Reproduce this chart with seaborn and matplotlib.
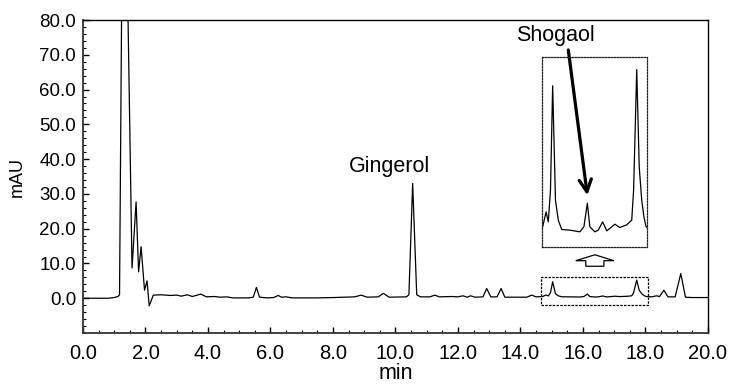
import matplotlib
matplotlib.use('Agg')
import matplotlib.pyplot as plt
import matplotlib.patches as mpatches
from matplotlib.ticker import MultipleLocator, FormatStrFormatter
import seaborn as sns
import pandas as pd

# Chromatogram trace (retention time in min, absorbance in mAU)
time_min = [0.0, 0.8, 1.0, 1.12, 1.17, 1.30, 1.57, 1.70, 1.78, 1.86, 1.97, 2.05, 2.12,
            2.25, 2.5, 2.8, 3.0, 3.15, 3.34, 3.5, 3.77, 3.95, 4.2, 4.4, 4.6, 4.8,
            5.3, 5.45, 5.55, 5.65, 5.9, 6.1, 6.25, 6.35, 6.5, 6.7, 7.5, 8.0, 8.7,
            8.9, 9.1, 9.45, 9.61, 9.8, 10.35, 10.43, 10.55, 10.68, 10.8, 11.1, 11.26,
            11.4, 11.8, 12.0, 12.16, 12.3, 12.4, 12.55, 12.8, 12.92, 13.05, 13.25,
            13.38, 13.5, 14.2, 14.36, 14.5, 14.62,
            14.71, 14.82, 14.89, 14.96, 15.03, 15.12, 15.21, 15.32, 15.58, 15.90,
            16.03, 16.14, 16.22, 16.38, 16.49, 16.63, 16.76, 16.86, 17.02, 17.18,
            17.40, 17.56, 17.62, 17.72, 17.80, 17.88, 17.95, 18.02,
            18.2, 18.35, 18.45, 18.59, 18.72, 18.95, 19.13, 19.28, 19.5, 20.0]
mau = [0.0, 0.0, 0.2, 0.5, 1.0, 160.0, 8.7, 27.7, 7.6, 14.8, 2.3, 5.0, -2.2,
       0.9, 1.0, 0.8, 0.9, 0.6, 1.0, 0.5, 1.2, 0.4, 0.5, 0.3, 0.4, 0.1,
       0.1, 0.3, 3.1, 0.3, 0.1, 0.2, 0.8, 0.3, 0.4, 0.1, 0.1, 0.2, 0.4,
       0.9, 0.3, 0.4, 1.4, 0.3, 0.4, 1.0, 33.0, 1.0, 0.4, 0.4, 0.9,
       0.4, 0.5, 0.4, 0.7, 0.3, 0.7, 0.3, 0.4, 2.8, 0.4, 0.4,
       2.8, 0.3, 0.3, 0.9, 0.4, 0.45,
       0.50, 0.95, 0.65, 1.6, 4.74, 1.30, 0.70, 0.42, 0.40, 0.35,
       0.50, 1.21, 0.50, 0.35, 0.40, 0.65, 0.38, 0.45, 0.58, 0.48,
       0.56, 0.70, 1.60, 5.23, 2.30, 1.30, 0.80, 0.50,
       0.4, 0.7, 0.5, 2.3, 0.4, 0.4, 7.1, 0.3, 0.2, 0.2]

x_ticks = [0, 2, 4, 6, 8, 10, 12, 14, 16, 18, 20]
y_ticks = [0, 10, 20, 30, 40, 50, 60, 70, 80]

# zoomed window (min) shown magnified in the inset
zoom_window = (14.66, 18.09)

df = pd.DataFrame({'min': time_min, 'mAU': mau})

sns.set_theme(style='ticks')
plt.rcParams['font.family'] = ['Liberation Sans', 'DejaVu Sans']
plt.rcParams['text.color'] = 'black'
plt.rcParams['axes.labelcolor'] = 'black'

fig = plt.figure(figsize=(7.31, 3.85), dpi=100)
ax = fig.add_axes([0.1135, 0.135, 0.855, 0.813])

sns.lineplot(data=df, x='min', y='mAU', ax=ax, color='black', linewidth=0.9)

ax.set_xlim(0, 20)
ax.set_ylim(-10, 80)
ax.set_xticks(x_ticks)
ax.set_yticks(y_ticks)
ax.xaxis.set_minor_locator(MultipleLocator(0.5))
ax.yaxis.set_minor_locator(MultipleLocator(2))
ax.xaxis.set_major_formatter(FormatStrFormatter('%.1f'))
ax.yaxis.set_major_formatter(FormatStrFormatter('%.1f'))
ax.tick_params(which='major', direction='in', length=4, width=1, colors='black')
ax.tick_params(which='minor', direction='in', length=2, width=0.8, colors='black')
ax.tick_params(axis='y', which='major', labelsize=13.5, pad=5)
ax.tick_params(axis='x', which='major', labelsize=14.5, pad=8)
for lbl in ax.get_xticklabels():
    lbl.set_family(['Liberation Sans Narrow', 'Liberation Sans'])
ax.set_xlabel('min', fontsize=15.5, labelpad=0,
              family=['Liberation Sans Narrow', 'Liberation Sans'])
ax.set_ylabel('mAU', fontsize=13, labelpad=10)
for side in ['left', 'bottom']:
    ax.spines[side].set_linewidth(1.3)
    ax.spines[side].set_color('#333333')
for side in ['top', 'right']:
    ax.spines[side].set_linewidth(1.0)
    ax.spines[side].set_color('black')

# dashed box around the magnified window
ax.add_patch(mpatches.Rectangle((zoom_window[0], -1.8), zoom_window[1] - zoom_window[0], 7.8,
                                fill=False, ec='black', lw=0.9, ls=(0, (2, 1))))

# hollow arrow pointing up to the inset
ax.add_patch(mpatches.FancyArrow(16.38, 9.2, 0, 3.3, width=0.58, head_width=1.22,
                                 head_length=1.7, length_includes_head=True,
                                 fc='white', ec='black', lw=0.9))

# magnified inset
axin = ax.inset_axes([14.68, 14.8, 3.36, 54.5], transform=ax.transData)
sns.lineplot(data=df, x='min', y='mAU', ax=axin, color='black', linewidth=0.9)
axin.set_xlim(14.68, 18.04)
axin.set_ylim(-0.1, 5.6)
axin.set_xticks([])
axin.set_yticks([])
axin.set_xlabel('')
axin.set_ylabel('')
axin.patch.set_alpha(0)
for s in axin.spines.values():
    s.set_linestyle((0, (1.2, 1.2)))
    s.set_linewidth(0.9)
    s.set_color('#222222')

# peak labels
ax.text(9.82, 36.4, 'Gingerol', fontsize=15.5, ha='center', va='baseline')
ax.text(15.12, 74.0, 'Shogaol', fontsize=15.5, ha='center', va='baseline')
ax.annotate('', xy=(16.14, 29.6), xytext=(15.53, 71.4),
            arrowprops=dict(arrowstyle='->', lw=2.3, color='black',
                            mutation_scale=22, shrinkA=0, shrinkB=0))

plt.savefig('out.png', dpi=100)
